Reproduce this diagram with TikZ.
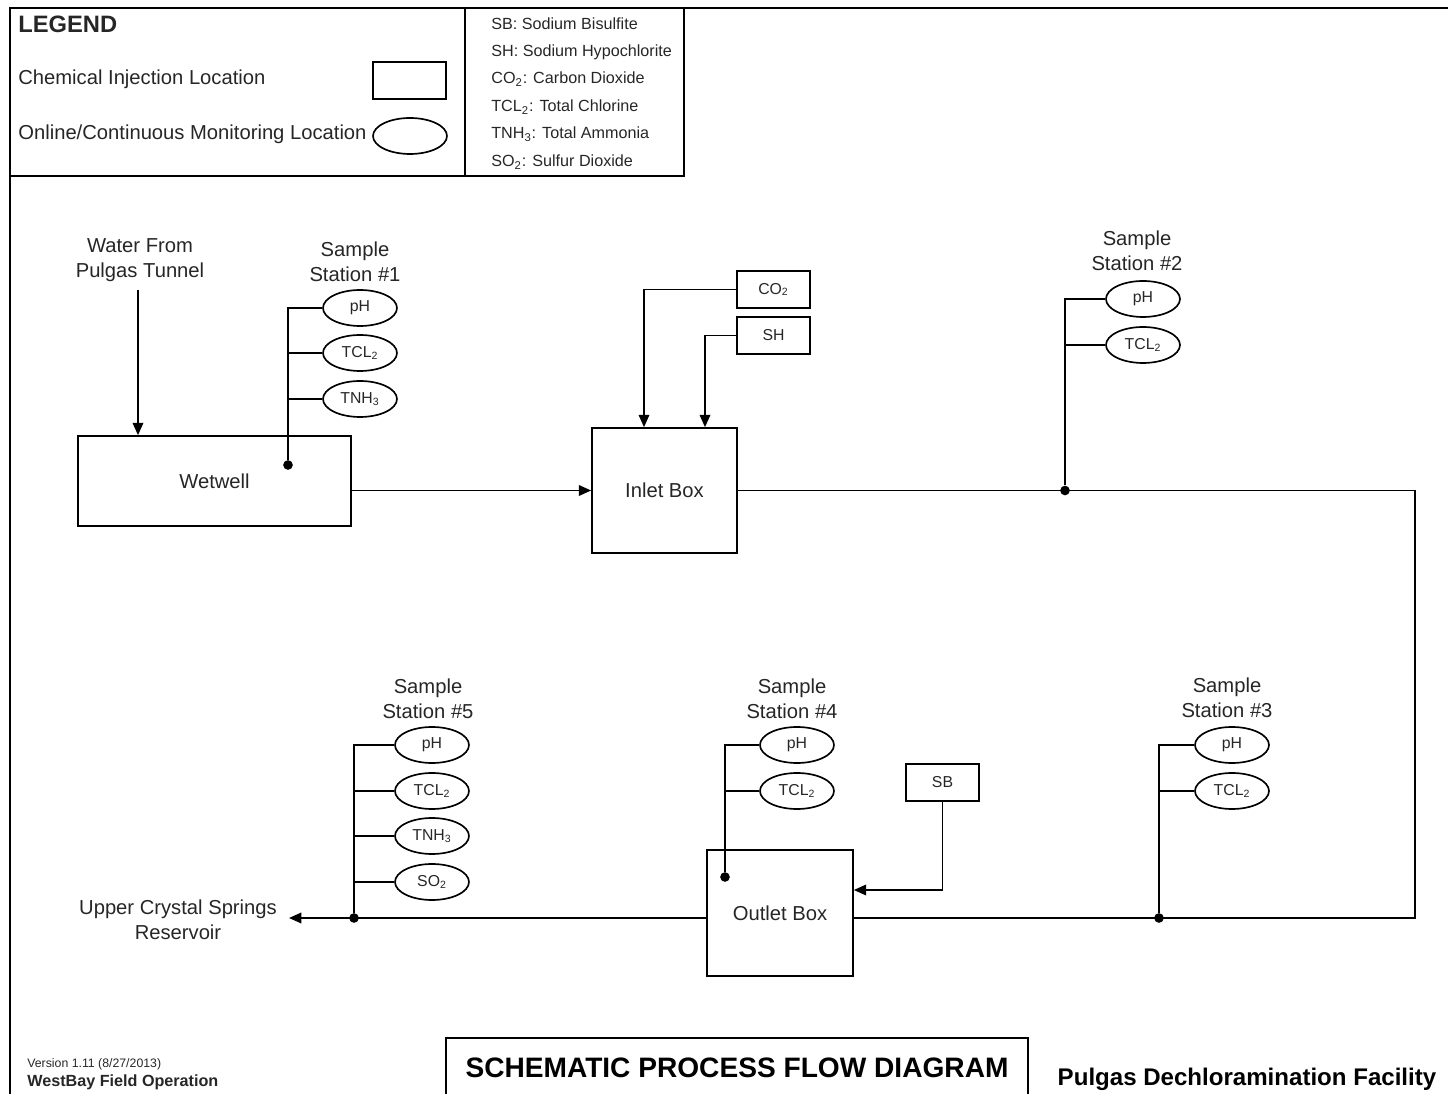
\documentclass[tikz,border=0pt]{standalone}
\usepackage{fontspec}
\setmainfont{Liberation Sans}
\usetikzlibrary{arrows.meta,shapes.geometric}
\tikzset{
  pipe/.style={line width=0.95pt},
  flow/.style={pipe,-{Triangle[length=7pt,width=6pt]}},
  unitbox/.style={draw,line width=0.95pt,font=\fontsize{11.5}{14}\selectfont},
  chembox/.style={draw,line width=0.95pt,minimum width=1.46cm,minimum height=0.74cm,inner sep=0pt,font=\fontsize{9}{10}\selectfont},
  probe/.style={draw,ellipse,line width=0.95pt,minimum width=1.48cm,minimum height=0.72cm,inner sep=0pt,font=\fontsize{9}{10}\selectfont},
  lbl/.style={align=center,font=\fontsize{11.5}{14}\selectfont},
  keytext/.style={anchor=west,inner sep=0pt,font=\fontsize{9.2}{10}\selectfont},
  tap/.style={circle,fill,inner sep=0pt,minimum size=5.5pt},
}

\begin{document}
\begin{tikzpicture}[x=0.02cm,y=-0.02cm,text=black!85]
			%%%%% START %%%%%
			\useasboundingbox (0,0) rectangle (1448,1094);
			
			% frame and legend
			\draw[line width=1.3pt] (1448,8) -- (10,8) -- (10,1094);
			\draw[pipe] (10,176) -- (684,176) -- (684,8);
			\draw[pipe] (465,8) -- (465,176);
			\node[anchor=west,inner sep=0pt,font=\fontsize{13.5}{15}\selectfont\bfseries] (legend) at (18,24) {LEGEND};
			\node[anchor=west,inner sep=0pt,font=\fontsize{11.5}{13}\selectfont] (keyinj) at (18,79) {Chemical Injection Location};
			\node[anchor=west,inner sep=0pt,font=\fontsize{11.5}{13}\selectfont] (keymon) at (18,134) {Online/Continuous Monitoring Location};
			\node[chembox] (keybox) at (409.5,80.5) {};
			\node[probe] (keyprobe) at (410,136) {};
			
			\node[keytext] (keysb) at (491,24) {SB: Sodium Bisulfite};
			\node[keytext] (keysh) at (491,52) {SH: Sodium Hypochlorite};
			\node[keytext] (keyco) at (491,79) {CO\textsubscript{2}: Carbon Dioxide};
			\node[keytext] (keytcl) at (491,107) {TCL\textsubscript{2}: Total Chlorine};
			\node[keytext] (keytnh) at (491,134) {TNH\textsubscript{3}: Total Ammonia};
			\node[keytext] (keyso) at (491,162) {SO\textsubscript{2}: Sulfur Dioxide};
			
			% process units
			\node[unitbox,minimum width=5.46cm,minimum height=1.8cm] (wetwell) at (214.5,481) {Wetwell};
			\node[unitbox,minimum width=2.9cm,minimum height=2.5cm] (inlet) at (664.5,490.5) {Inlet Box};
			\node[unitbox,minimum width=2.92cm,minimum height=2.52cm] (outlet) at (780,913) {Outlet Box};
			\node[chembox] (co2) at (773.5,289.5) {CO\textsubscript{2}};
			\node[chembox] (sh) at (773.5,335.5) {SH};
			\node[chembox] (sb) at (942.5,782.5) {SB};
			
			\node[lbl] (source) at (140,260) {Water From\\Pulgas Tunnel};
			\node[lbl] (reservoir) at (178,920) {Upper Crystal Springs\\Reservoir};
			\coordinate (srcend) at (138,290);
			\coordinate (outfall) at (289,918);
			\coordinate (bendtop) at (1415,490.5);
			\coordinate (bendbot) at (1415,918);
			
			% sample stations
			\node[lbl] (st1) at (355,262) {Sample\\Station \#1};
			\node[lbl] (st2) at (1137,251) {Sample\\Station \#2};
			\node[lbl] (st3) at (1227,698) {Sample\\Station \#3};
			\node[lbl] (st4) at (792,699) {Sample\\Station \#4};
			\node[lbl] (st5) at (428,699) {Sample\\Station \#5};
			
			\node[probe] (s1ph) at (360,308) {pH};
			\node[probe] (s1tcl) at (360,353) {TCL\textsubscript{2}};
			\node[probe] (s1tnh) at (360,399) {TNH\textsubscript{3}};
			\node[probe] (s2ph) at (1143,299) {pH};
			\node[probe] (s2tcl) at (1143,345) {TCL\textsubscript{2}};
			\node[probe] (s3ph) at (1232,745) {pH};
			\node[probe] (s3tcl) at (1232,791) {TCL\textsubscript{2}};
			\node[probe] (s4ph) at (797,745) {pH};
			\node[probe] (s4tcl) at (797,791) {TCL\textsubscript{2}};
			\node[probe] (s5ph) at (432,745) {pH};
			\node[probe] (s5tcl) at (432,791) {TCL\textsubscript{2}};
			\node[probe] (s5tnh) at (432,836) {TNH\textsubscript{3}};
			\node[probe] (s5so) at (432,882) {SO\textsubscript{2}};
			
			\node[tap] (s1tap) at (288,465) {};
			\node[tap] (s2tap) at (1065,490.5) {};
			\node[tap] (s3tap) at (1159,918) {};
			\node[tap] (s4tap) at (725,877) {};
			\node[tap] (s5tap) at (354,918) {};
			
			% flow lines
			\draw[flow] (srcend) -- (srcend |- wetwell.north);
			\draw[flow] (wetwell.east |- inlet.west) -- (inlet.west);
			\draw[flow] (co2.west) -| ([xshift=-0.41cm]inlet.north);
			\draw[flow] (sh.west) -| ([xshift=0.81cm]inlet.north);
			\draw[pipe] (inlet.east) -- (bendtop) -- (bendbot) -- (outlet.east |- bendbot);
			\draw[flow] (sb.south) |- ([yshift=0.46cm]outlet.east);
			\draw[flow] (outlet.west |- bendbot) -- (outfall);
			
			% station taps
			\draw[pipe] (s1ph.west) -| (s1tap);
			\draw[pipe] (s1tcl.west) -- (s1tcl.west -| s1tap);
			\draw[pipe] (s1tnh.west) -- (s1tnh.west -| s1tap);
			\draw[pipe] (s2ph.west) -| (s2tap);
			\draw[pipe] (s2tcl.west) -- (s2tcl.west -| s2tap);
			\draw[pipe] (s3ph.west) -| (s3tap);
			\draw[pipe] (s3tcl.west) -- (s3tcl.west -| s3tap);
			\draw[pipe] (s4ph.west) -| (s4tap);
			\draw[pipe] (s4tcl.west) -- (s4tcl.west -| s4tap);
			\draw[pipe] (s5ph.west) -| (s5tap);
			\draw[pipe] (s5tcl.west) -- (s5tcl.west -| s5tap);
			\draw[pipe] (s5tnh.west) -- (s5tnh.west -| s5tap);
			\draw[pipe] (s5so.west) -- (s5so.west -| s5tap);
			
			% title block
			\draw[pipe] (446,1094) -- (446,1038) -- (1028,1038) -- (1028,1094);
			\node[font=\fontsize{16}{18}\selectfont\bfseries,text=black] (title) at (737,1068) {SCHEMATIC PROCESS FLOW DIAGRAM};
			\node[font=\fontsize{13.7}{15}\selectfont\bfseries,text=black] (facility) at (1247,1079) {Pulgas Dechloramination Facility};
			\node[anchor=west,inner sep=0pt,font=\fontsize{7}{8}\selectfont] (version) at (27,1064) {Version 1.11 (8/27/2013)};
			\node[anchor=west,inner sep=0pt,font=\fontsize{9.2}{10}\selectfont\bfseries] (owner) at (27,1082) {WestBay Field Operation};
			%%%%% END %%%%%
\end{tikzpicture}
\end{document}
